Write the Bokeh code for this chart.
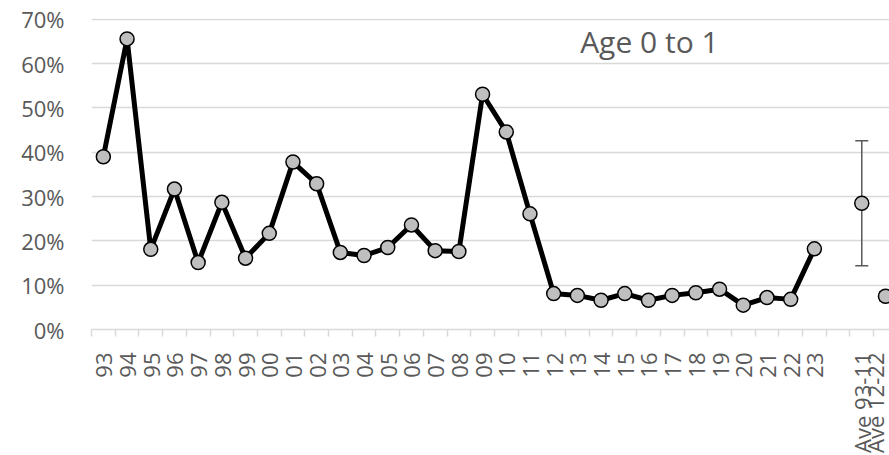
import math
from bokeh.plotting import figure
from bokeh.models import (Range1d, FixedTicker, NumeralTickFormatter, Label,
                          ColumnDataSource, Whisker, TeeHead)
from bokeh.embed import file_html
from bokeh.resources import INLINE

# ---- data ----
years = ["93", "94", "95", "96", "97", "98", "99", "00", "01", "02", "03",
         "04", "05", "06", "07", "08", "09", "10", "11", "12", "13", "14",
         "15", "16", "17", "18", "19", "20", "21", "22", "23"]
values = [39.0, 65.6, 18.1, 31.7, 15.1, 28.7, 16.1, 21.7, 37.8, 32.9, 17.4,
          16.7, 18.5, 23.6, 17.8, 17.6, 53.1, 44.6, 26.1, 8.1, 7.7, 6.6,
          8.1, 6.6, 7.7, 8.3, 9.1, 5.5, 7.2, 6.8, 18.2]
ave_labels = ["Ave 93-11", "Ave 12-22"]
ave_values = [28.5, 7.5]
ave_err = [14.1, 1.0]
y_ticks = [0, 10, 20, 30, 40, 50, 60, 70]
title_text = "Age 0 to 1"

# ---- positions on the category axis ----
categories = years + [""] + ave_labels
year_x = list(range(len(years)))
ave_x = [categories.index(a) for a in ave_labels]

LABEL = "#595959"
GRID = "#d9d9d9"
FONT = "Open Sans"

p = figure(width=889, height=455, output_backend="svg", toolbar_location=None,
           x_range=Range1d(-0.5, 33.17), y_range=Range1d(0, 0.702),
           min_border_left=91, min_border_right=0, min_border_top=18,
           min_border_bottom=0)
p.outline_line_color = None
p.background_fill_color = "white"
p.border_fill_color = "white"

# y axis
p.yaxis.ticker = FixedTicker(ticks=[t / 100 for t in y_ticks])
p.yaxis.formatter = NumeralTickFormatter(format="0%")
p.yaxis.axis_line_color = None
p.yaxis.major_tick_line_color = None
p.yaxis.minor_tick_line_color = None
p.yaxis.major_tick_out = 0
p.yaxis.major_tick_in = 0
p.yaxis.major_label_standoff = 27
p.yaxis.major_label_text_font = FONT
p.yaxis.major_label_text_font_size = "22px"
p.yaxis.major_label_text_color = LABEL

p.ygrid.ticker = FixedTicker(ticks=[t / 100 for t in y_ticks[1:]])
p.ygrid.grid_line_color = GRID
p.ygrid.grid_line_width = 1.5
p.xgrid.grid_line_color = None

# x axis
p.xaxis.ticker = FixedTicker(ticks=list(range(len(categories))),
                             minor_ticks=[i - 0.5 for i in range(len(categories))])
p.xaxis.major_label_overrides = {i: c for i, c in enumerate(categories)}
p.xaxis.major_label_orientation = math.pi / 2
p.xaxis.major_tick_out = 0
p.xaxis.major_tick_in = 0
p.xaxis.major_tick_line_color = None
p.xaxis.minor_tick_out = 7
p.xaxis.minor_tick_in = 0
p.xaxis.minor_tick_line_color = GRID
p.xaxis.minor_tick_line_width = 1.5
p.xaxis.axis_line_color = GRID
p.xaxis.axis_line_width = 1.5
p.xaxis.major_label_standoff = 16
p.xaxis.major_label_text_font = FONT
p.xaxis.major_label_text_font_size = "22px"
p.xaxis.major_label_text_color = LABEL

# error bars for the averages
err_src = ColumnDataSource(dict(
    x=ave_x,
    upper=[(v + e) / 100 for v, e in zip(ave_values, ave_err)],
    lower=[(v - e) / 100 for v, e in zip(ave_values, ave_err)],
))
wh = Whisker(source=err_src, base="x", upper="upper", lower="lower",
             line_color=LABEL, line_width=1.5,
             upper_head=TeeHead(size=13, line_color=LABEL, line_width=1.5),
             lower_head=TeeHead(size=13, line_color=LABEL, line_width=1.5),
             level="underlay")
p.add_layout(wh)

# series
yv = [v / 100 for v in values]
p.line(year_x, yv, line_color="black", line_width=5, line_join="round")
p.scatter(year_x, yv, size=14, fill_color="#bfbfbf", line_color="black",
          line_width=1.5)
p.scatter(ave_x, [v / 100 for v in ave_values], size=14, fill_color="#bfbfbf",
          line_color="black", line_width=1.5)

# in-plot title
p.add_layout(Label(x=23.04, y=0.651, text=title_text, text_align="center",
                   text_baseline="alphabetic", text_font=FONT,
                   text_font_size="30px", text_color=LABEL))

open("out.html", "w").write(file_html(p, INLINE))
